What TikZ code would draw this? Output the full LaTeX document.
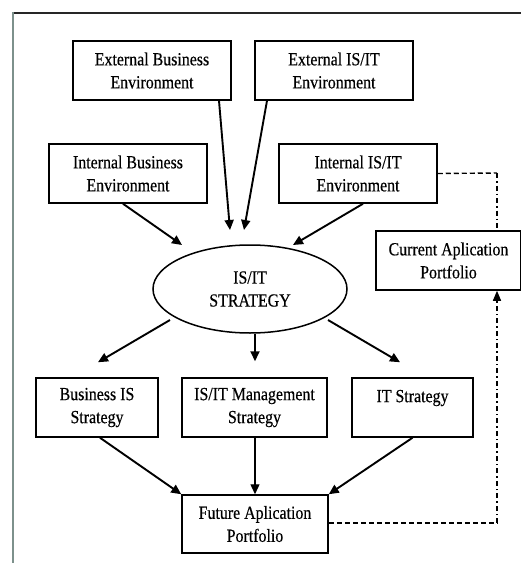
\documentclass[tikz,border=0pt]{standalone}
\usepackage{fontspec}
\setmainfont{Liberation Serif}[FakeStretch=0.86,FakeBold=0.4]
\usetikzlibrary{arrows.meta,calc,shapes.geometric}
\begin{document}
\begin{tikzpicture}[x=1pt,y=-1pt,
  box/.style={draw,line width=1.5pt,minimum height=59pt,inner sep=0pt,align=center,
    font=\fontsize{18.5}{23}\selectfont,text=black},
  arr/.style={line width=1.9pt,-{Triangle[length=10pt,width=9pt]}},
  thinarr/.style={line width=1.3pt,-{Triangle[length=10pt,width=9pt]}},
  dsh/.style={line width=1.4pt,dash pattern=on 5pt off 3pt},
  dshdot/.style={line width=1.4pt,dash pattern=on 5pt off 3pt on 1.5pt off 3pt}]
\useasboundingbox (0,0) rectangle (521,563);
\fill[white] (0,0) rectangle (521,563);
% frame
\draw[line width=2.2pt,black!85] (12,13) -- (521,13);
\draw[line width=2pt,color={rgb,255:red,125;green,145;blue,140}] (13,12) -- (13,563);
% nodes
\node[box,minimum width=158pt] (eb) at (152,70.5) {External Business\\Environment};
\node[box,minimum width=158pt] (ei) at (334,70.5) {External IS/IT\\Environment};
\node[box,minimum width=158pt] (ib) at (128,173.5) {Internal Business\\Environment};
\node[box,minimum width=158pt] (ii) at (358,173.5) {Internal IS/IT\\Environment};
\node[box,minimum width=145pt] (cur) at (448.5,260.5) {Current Aplication\\Portfolio};
\node[draw,ellipse,line width=1.5pt,minimum width=194pt,minimum height=88pt,inner sep=0pt,
  align=center,font=\fontsize{18.5}{23}\selectfont,text=black] (st) at (250,289) {IS/IT\\STRATEGY};
\node[box,minimum width=122pt] (bis) at (97,407.5) {Business IS\\Strategy};
\node[box,minimum width=145pt] (mg) at (254.5,407.5) {IS/IT Management\\Strategy};
\node[box,minimum width=121pt] (its) at (412.5,407.5) {IT Strategy\\\mbox{}};
\node[box,minimum width=146pt,minimum height=58pt] (fut) at (255,524) {Future Aplication\\Portfolio};
% arrows into strategy
\draw[arr] ([xshift=67pt]eb.south) -- ([shift={(-20,-59)}]st.center);
\draw[arr] ([xshift=-67pt]ei.south) -- ([shift={(-6,-59)}]st.center);
\draw[arr] ([xshift=-5pt]ib.south) -- ([shift={(-68,-44)}]st.center);
\draw[arr] ([xshift=5pt]ii.south) -- ([shift={(43,-44)}]st.center);
% arrows out of strategy
\draw[arr] ([shift={(-80,31)}]st.center) -- ([shift={(1,-15)}]bis.north);
\draw[arr] ([xshift=5pt]st.south) -- ([shift={(0.5,-16)}]mg.north);
\draw[arr] ([shift={(78,31)}]st.center) -- ([shift={(-12.5,-15)}]its.north);
% arrows into future
\draw[arr] ([xshift=3pt]bis.south) -- (fut.north west);
\draw[thinarr] ([xshift=0.5pt]mg.south) -- (fut.north);
\draw[arr] (its.south) -- (fut.north east);
% dashed feedback
\coordinate (c1) at (497,173);
\coordinate (c2) at (497,523);
\draw[dsh] (ii.east) -- (c1);
\draw[dshdot] (c1) -- (c1 |- cur.north);
\draw[dsh] (fut.east |- c2) -- (c2);
\draw[dshdot,-{Triangle[length=10pt,width=8pt]}] (c2) -- (c2 |- cur.south);
\end{tikzpicture}
\end{document}
